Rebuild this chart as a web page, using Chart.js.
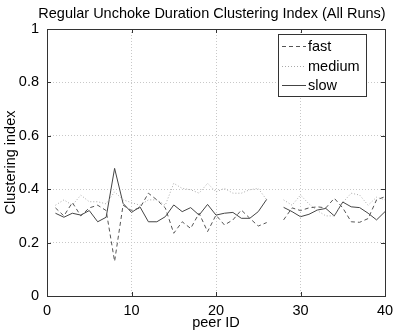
<!DOCTYPE html>
<html>
<head>
<meta charset="utf-8">
<script src="https://cdn.jsdelivr.net/npm/chart.js@4"></script>
<style>
  html, body { margin: 0; padding: 0; background: #fff; }
  #wrap { width: 402px; height: 331px; }
</style>
</head>
<body>
<div id="wrap"><canvas id="chart" width="402" height="331"></canvas></div>
<script>
// peer IDs (27 has no data)
const peerIds = [1,2,3,4,5,6,7,8,9,10,11,12,13,14,15,16,17,18,19,20,21,22,23,24,25,26,27,28,29,30,31,32,33,34,35,36,37,38,39,40];

const fastValues = [0.33,0.30,0.35,0.30,0.33,0.34,0.32,0.13,0.34,0.32,0.33,0.385,0.36,0.33,0.235,0.278,0.253,0.31,0.241,0.303,0.266,0.285,0.322,0.291,0.262,0.275,
  null,0.285,0.33,0.32,0.33,0.334,0.33,0.366,0.33,0.278,0.276,0.29,0.36,0.372];
const mediumValues = [0.34,0.36,0.34,0.378,0.353,0.353,0.345,0.39,0.36,0.35,0.34,0.36,0.36,0.34,0.422,0.403,0.398,0.385,0.422,0.39,0.403,0.385,0.385,0.398,0.403,0.36,
  null,0.36,0.34,0.378,0.345,0.32,0.30,0.30,0.35,0.385,0.378,0.34,0.37,0.36];
const slowValues = [0.31,0.295,0.31,0.303,0.32,0.278,0.295,0.478,0.347,0.313,0.334,0.278,0.278,0.297,0.341,0.316,0.331,0.303,0.343,0.303,0.31,0.313,0.291,0.291,0.316,0.362,
  null,0.332,0.316,0.297,0.306,0.322,0.328,0.30,0.352,0.334,0.331,0.31,0.285,0.316];

const xTicks = [0, 10, 20, 30, 40];
const yTicks = [0, 0.2, 0.4, 0.6, 0.8, 1];
const titleText = 'Regular Unchoke Duration Clustering Index (All Runs)';

const FONT = '"Liberation Sans", Arial, Helvetica, sans-serif';
const FS = 14.5;

function toPoints(vals) {
  return peerIds.map((id, i) => ({ x: id, y: vals[i] }));
}

// box, inward ticks, title and legend, matlab style
const matlabFrame = {
  id: 'matlabFrame',
  afterDraw(chart) {
    const ctx = chart.ctx;
    const a = chart.chartArea;
    const xs = chart.scales.x, ys = chart.scales.y;
    ctx.save();
    ctx.strokeStyle = '#333';
    ctx.lineWidth = 1;
    ctx.setLineDash([]);
    ctx.strokeRect(Math.round(a.left) + 0.5, Math.round(a.top) + 0.5,
      Math.round(a.right - a.left), Math.round(a.bottom - a.top));
    ctx.beginPath();
    xTicks.forEach(t => {
      const px = Math.round(xs.getPixelForValue(t)) + 0.5;
      ctx.moveTo(px, a.bottom); ctx.lineTo(px, a.bottom - 4);
      ctx.moveTo(px, a.top); ctx.lineTo(px, a.top + 4);
    });
    yTicks.forEach(t => {
      const py = Math.round(ys.getPixelForValue(t)) + 0.5;
      ctx.moveTo(a.left, py); ctx.lineTo(a.left + 4, py);
      ctx.moveTo(a.right, py); ctx.lineTo(a.right - 4, py);
    });
    ctx.stroke();

    // title over the axes
    ctx.fillStyle = '#000';
    ctx.font = FS + 'px ' + FONT;
    ctx.textAlign = 'center';
    ctx.textBaseline = 'alphabetic';
    ctx.fillText(titleText, (a.left + a.right) / 2 - 4, 18);

    // legend
    const lx = 278.5, ly = 34.5, lw = 88, lh = 62;
    ctx.fillStyle = '#fff';
    ctx.fillRect(lx, ly, lw, lh);
    ctx.strokeStyle = '#333';
    ctx.strokeRect(lx, ly, lw, lh);
    ctx.textAlign = 'left';
    ctx.textBaseline = 'middle';
    const rows = [46, 66, 85];
    chart.data.datasets.forEach((ds, i) => {
      const y = rows[i] + 0.5;
      ctx.strokeStyle = ds.borderColor;
      ctx.setLineDash(ds.borderDash || []);
      ctx.beginPath();
      ctx.moveTo(282, y); ctx.lineTo(306, y);
      ctx.stroke();
      ctx.fillStyle = '#000';
      ctx.fillText(ds.label, 308, rows[i] + 1);
    });
    ctx.restore();
  }
};

new Chart(document.getElementById('chart'), {
  type: 'line',
  data: {
    datasets: [
      { label: 'fast', data: toPoints(fastValues), borderColor: '#555', borderDash: [4, 3] },
      { label: 'medium', data: toPoints(mediumValues), borderColor: '#aaa', borderDash: [1, 2] },
      { label: 'slow', data: toPoints(slowValues), borderColor: '#444' }
    ].map(d => Object.assign(d, { borderWidth: 1, pointRadius: 0, tension: 0, spanGaps: false, fill: false }))
  },
  options: {
    responsive: false,
    animation: false,
    layout: { padding: { top: 29, right: 17, left: 0, bottom: 0 } },
    plugins: {
      legend: { display: false },
      tooltip: { enabled: false },
      title: { display: false }
    },
    scales: {
      x: {
        type: 'linear', min: 0, max: 40,
        afterBuildTicks: s => { s.ticks = xTicks.map(v => ({ value: v })); },
        afterFit: s => { s.height = 35; },
        grid: { color: '#c8c8c8', drawTicks: false },
        border: { display: false, dash: [1, 2] },
        ticks: { color: '#000', padding: 6, maxRotation: 0, font: { family: FONT, size: FS } },
        title: { display: true, text: 'peer ID', color: '#000', padding: { top: 0, bottom: -1 }, font: { family: FONT, size: FS } }
      },
      y: {
        min: 0, max: 1,
        afterBuildTicks: s => { s.ticks = yTicks.map(v => ({ value: v })); },
        afterFit: s => { s.width = 47; },
        grid: { color: '#c8c8c8', drawTicks: false },
        border: { display: false, dash: [1, 2] },
        ticks: { color: '#000', padding: 8, font: { family: FONT, size: FS }, callback: v => String(+v.toFixed(1)) },
        title: { display: true, text: 'Clustering index', color: '#000', padding: { top: 2, bottom: 0 }, font: { family: FONT, size: FS } }
      }
    }
  },
  plugins: [matlabFrame]
});
</script>
</body>
</html>
